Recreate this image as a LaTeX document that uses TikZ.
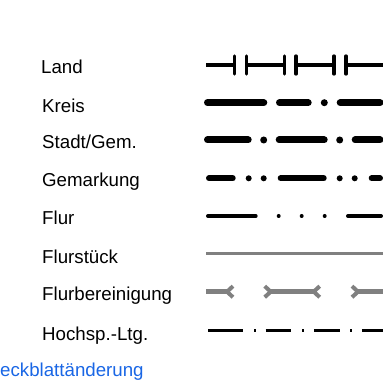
\documentclass[tikz,border=0pt]{standalone}
\usepackage{fontspec}
\setmainfont{Liberation Sans}
\usepackage{xcolor}
\usetikzlibrary{arrows.meta}
\definecolor{deckblau}{rgb}{0.10,0.40,0.90}

\begin{document}
\begin{tikzpicture}[x=1pt,y=-1pt,font=\fontsize{18.7}{22}\selectfont,
		every node/.style={inner sep=0pt,anchor=base west}]
		\tikzstyle{land}=[line width=3.3pt]
		\tikzstyle{kreis}=[line width=7pt,line cap=round,
			dash pattern=on 56.3pt off 15.7pt on 28.7pt off 16.1pt on 0pt off 15.9pt]
		\tikzstyle{stadt}=[line width=7pt,line cap=round,
			dash pattern=on 45pt off 15.5pt on 0pt off 15.5pt,dash phase=4.3pt]
		\tikzstyle{gemarkung}=[line width=6pt,line cap=round,
			dash pattern=on 43pt off 16pt on 0pt off 15pt on 0pt off 17pt,dash phase=19.3pt]
		\tikzstyle{flur}=[line width=4pt,line cap=round,
			dash pattern=on 47.7pt off 23pt on 0pt off 23pt on 0pt off 23pt on 0pt off 23.3pt]
		\tikzstyle{flurstueck}=[line width=3pt,draw=gray]
		\tikzstyle{flurber}=[line width=5pt,draw=gray,
			>={Straight Barb[length=6pt,width=11pt,line width=4pt]}]
		\tikzstyle{hochsp}=[line width=3pt,
			dash pattern=on 35pt off 10.7pt on 2pt off 9.7pt on 25.7pt off 10.7pt on 2pt off 9.7pt
			on 25.7pt off 10.7pt on 2pt off 9.7pt on 100pt off 10pt]
		
		\useasboundingbox (0,0) rectangle (383,382);
		
		\node (land)       at (41,74)      {Land};
		\node (kreis)      at (42,112.3)   {Kreis};
		\node (stadt)      at (42,149)     {Stadt/Gem.};
		\node (gemarkung)  at (42,187)     {Gemarkung};
		\node (flur)       at (42,225)     {Flur};
		\node (flurstueck) at (42,263.3)   {Flurstück};
		\node (flurber)    at (42,300.7)   {Flurbereinigung};
		\node (hochsp)     at (42,340)     {Hochsp.-Ltg.};
		\node (deckblatt)  at (0,376.7)    [text=deckblau] {eckblattänderung};
		
		% Land
		\draw[land] (206,65) -- (234.3,65) (246.7,65) -- (284.3,65)
			(296,65) -- (334,65) (346,65) -- (383,65);
		\draw[land,line cap=round] (234.3,56) -- (234.3,74) (246.7,56) -- (246.7,74)
			(284.3,56) -- (284.3,74) (296,56) -- (296,74)
			(334,56) -- (334,74) (346,56) -- (346,74);
		
		% Kreis, Stadt/Gem., Gemarkung, Flur
		\draw[kreis]     (207.5,102.7) -- (380,102.7);
		\draw[stadt]     (207.5,140)   -- (380,140);
		\draw[gemarkung] (209,178.3)   -- (380,178.3);
		\draw[flur]      (208,216)     -- (381,216);
		
		% Flurstueck
		\draw[flurstueck] (206,254) -- (383,254);
		
		% Flurbereinigung
		\draw[flurber,-<]  (206,291.7)   -- (235,291.7);
		\draw[flurber,>-<] (262.7,291.7) -- (321.7,291.7);
		\draw[flurber,>-]  (350,291.7)   -- (383,291.7);
		
		% Hochsp.-Ltg.
		\draw[hochsp] (208.3,330) -- (383,330);
		\end{tikzpicture}
\end{document}
